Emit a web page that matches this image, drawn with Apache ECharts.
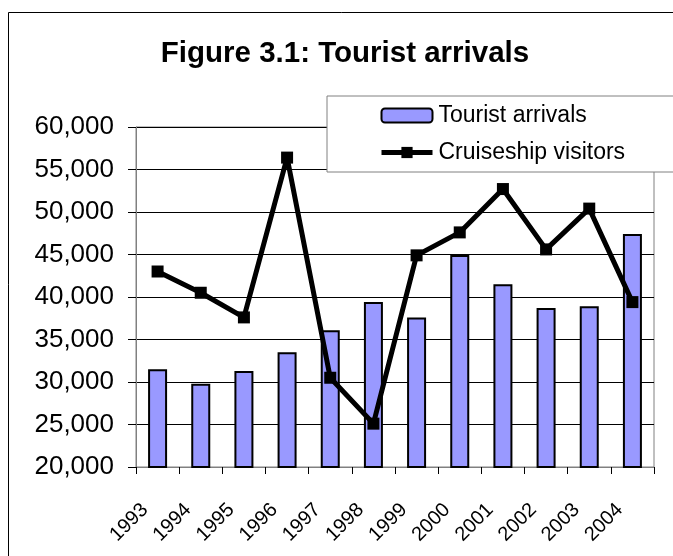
<!DOCTYPE html>
<html>
<head>
<meta charset="utf-8">
<script src="https://cdn.jsdelivr.net/npm/echarts@6/dist/echarts.min.js"></script>
<style>
html,body{margin:0;padding:0;background:#fff;}
#chart{width:673px;height:556px;}
</style>
</head>
<body>
<div id="chart"></div>
<script>
var years = ['1993','1994','1995','1996','1997','1998','1999','2000','2001','2002','2003','2004'];
var touristArrivals = [31500, 29800, 31300, 33500, 36100, 39400, 37600, 44950, 41500, 38700, 38900, 47400];
var cruiseshipVisitors = [43000, 40500, 37600, 56400, 30500, 25100, 44900, 47600, 52700, 45600, 50400, 39400];
var yTicks = {min: 20000, max: 60000, interval: 5000};

var FONT = '"Liberation Sans", Arial, sans-serif';
var chart = echarts.init(document.getElementById('chart'), null, {renderer: 'canvas'});
chart.setOption({
  animation: false,
  backgroundColor: '#fff',
  title: {
    text: 'Figure 3.1: Tourist arrivals',
    left: 340, textAlign: 'center', top: 34,
    textStyle: {fontFamily: FONT, fontSize: 29.5, fontWeight: 'bold', color: '#000'}
  },
  graphic: [{
    type: 'rect', z: -1, silent: true,
    shape: {x: 8.5, y: 12.5, width: 800, height: 700},
    style: {fill: 'none', stroke: '#000', lineWidth: 1}
  }],
  legend: {
    orient: 'vertical', left: 327, top: 96,
    backgroundColor: '#fff', borderColor: '#808080', borderWidth: 1,
    padding: [8, 60, 8, 52], itemWidth: 51, itemHeight: 14, itemGap: 14,
    selectedMode: false, z: 10,
    lineStyle: {width: 5},
    textStyle: {fontFamily: FONT, fontSize: 23, color: '#000', padding: [0, 0, 0, 1]},
    data: ['Tourist arrivals', 'Cruiseship visitors']
  },
  grid: {
    left: 136, right: 19, top: 127, bottom: 89,
    show: true, borderColor: '#808080', borderWidth: 1, backgroundColor: 'transparent'
  },
  xAxis: {
    type: 'category', data: years, boundaryGap: true,
    axisLine: {lineStyle: {color: '#808080', width: 1}},
    axisTick: {show: true, alignWithLabel: false, interval: 0, length: 7, lineStyle: {color: '#000'}},
    axisLabel: {interval: 0, rotate: 45, margin: 27, padding: [0, 18, 14, 0],
      fontFamily: FONT, fontSize: 20, color: '#000'},
    splitLine: {show: false}
  },
  yAxis: {
    type: 'value', min: yTicks.min, max: yTicks.max, interval: yTicks.interval,
    axisLine: {show: true, lineStyle: {color: '#808080', width: 1}},
    axisTick: {show: true, inside: false, length: 8, lineStyle: {color: '#000'}},
    axisLabel: {margin: 22, fontFamily: FONT, fontSize: 26, color: '#000',
      formatter: function (v) { return v.toLocaleString('en-US'); }},
    splitLine: {show: true, lineStyle: {color: '#000', width: 1}}
  },
  series: [{
    name: 'Tourist arrivals', type: 'bar', data: touristArrivals, barWidth: 19,
    itemStyle: {color: '#9999FF', borderColor: '#000', borderWidth: 2}, z: 2
  }, {
    name: 'Cruiseship visitors', type: 'line', data: cruiseshipVisitors,
    symbol: 'rect', symbolSize: 12,
    lineStyle: {color: '#000', width: 5},
    itemStyle: {color: '#000'}, z: 3
  }]
});
</script>
</body>
</html>
